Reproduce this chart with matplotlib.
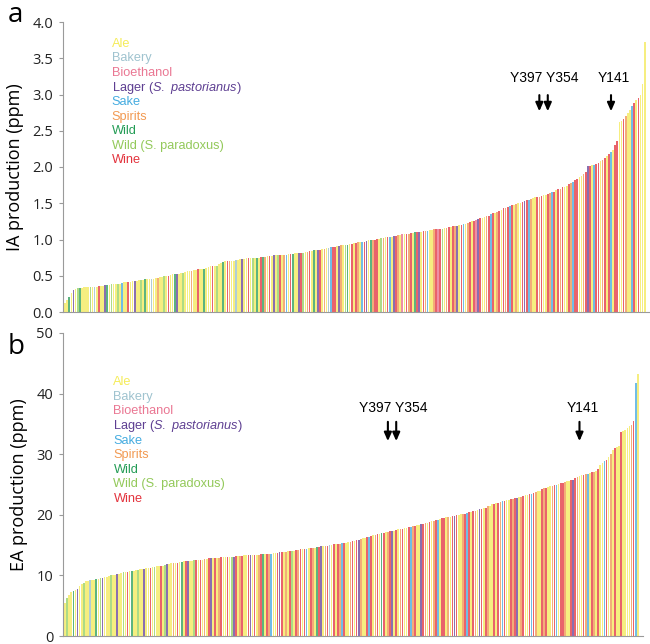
import matplotlib
matplotlib.use("Agg")
import matplotlib.pyplot as plt
import numpy as np

plt.rcParams["mathtext.fontset"] = "custom"
plt.rcParams["mathtext.rm"] = "Liberation Sans"
plt.rcParams["mathtext.it"] = "Liberation Sans:italic"

# strain categories, in legend order
cat_names = ["Ale", "Bakery", "Bioethanol", "Lager (S. pastorianus)", "Sake",
             "Spirits", "Wild", "Wild (S. paradoxus)", "Wine"]
cat_codes = ["A", "K", "B", "L", "S", "P", "W", "X", "R"]
cat_colors = ["#f5ec5a", "#9fc3cf", "#ea7793", "#5e3f92", "#45ace0",
              "#f29a52", "#239c55", "#93c95a", "#e3333d"]
# bars look paler than the legend text in the original (thin lines)
bar_colors = ["#f6ee80", "#b0cdd6", "#ee8fa5", "#8a6fb0", "#70bde6",
              "#f3ad78", "#5cb47f", "#addb86", "#e9636b"]

# panel a: isoamyl acetate, sorted per strain
ia_values = [
    0.12, 0.17, 0.21, 0.26, 0.30, 0.32, 0.33, 0.33, 0.33, 0.34, 0.34, 0.34, 0.35, 0.35, 0.35, 0.35, 0.36, 0.36, 0.36, 0.37, 0.37, 0.37, 0.38,
    0.38, 0.38, 0.39, 0.39, 0.40, 0.41, 0.41, 0.42, 0.42, 0.43, 0.43, 0.43, 0.44, 0.44, 0.44, 0.45, 0.45, 0.46, 0.46, 0.46, 0.47, 0.47, 0.48,
    0.48, 0.49, 0.49, 0.50, 0.51, 0.52, 0.52, 0.53, 0.53, 0.54, 0.54, 0.55, 0.56, 0.56, 0.57, 0.58, 0.58, 0.59, 0.59, 0.60, 0.60, 0.61, 0.62,
    0.63, 0.63, 0.64, 0.64, 0.66, 0.68, 0.69, 0.70, 0.70, 0.71, 0.71, 0.71, 0.72, 0.72, 0.73, 0.73, 0.73, 0.74, 0.74, 0.74, 0.75, 0.75, 0.75,
    0.75, 0.76, 0.76, 0.76, 0.77, 0.77, 0.77, 0.78, 0.78, 0.78, 0.78, 0.79, 0.79, 0.79, 0.80, 0.80, 0.80, 0.81, 0.81, 0.81, 0.82, 0.82, 0.83,
    0.83, 0.84, 0.84, 0.85, 0.85, 0.86, 0.86, 0.87, 0.87, 0.88, 0.88, 0.89, 0.89, 0.90, 0.91, 0.91, 0.92, 0.92, 0.93, 0.93, 0.94, 0.94, 0.95,
    0.95, 0.96, 0.96, 0.97, 0.97, 0.98, 0.99, 0.99, 1.00, 1.00, 1.01, 1.01, 1.02, 1.02, 1.03, 1.03, 1.04, 1.04, 1.05, 1.05, 1.06, 1.06, 1.07,
    1.07, 1.08, 1.08, 1.09, 1.09, 1.10, 1.10, 1.11, 1.11, 1.12, 1.12, 1.12, 1.13, 1.13, 1.14, 1.14, 1.14, 1.15, 1.15, 1.16, 1.16, 1.17, 1.17,
    1.18, 1.18, 1.19, 1.20, 1.20, 1.21, 1.22, 1.23, 1.24, 1.25, 1.26, 1.27, 1.28, 1.29, 1.30, 1.31, 1.32, 1.33, 1.35, 1.36, 1.37, 1.38, 1.40,
    1.41, 1.43, 1.44, 1.45, 1.46, 1.47, 1.48, 1.49, 1.50, 1.51, 1.52, 1.53, 1.54, 1.55, 1.56, 1.57, 1.58, 1.59, 1.59, 1.60, 1.61, 1.62, 1.63,
    1.64, 1.65, 1.66, 1.68, 1.69, 1.70, 1.72, 1.73, 1.74, 1.76, 1.78, 1.80, 1.82, 1.84, 1.86, 1.88, 1.90, 1.93, 2.02, 2.02, 2.03, 2.03, 2.04,
    2.06, 2.08, 2.10, 2.12, 2.15, 2.18, 2.21, 2.24, 2.30, 2.36, 2.62, 2.64, 2.66, 2.70, 2.74, 2.78, 2.84, 2.88, 2.92, 2.95, 3.00, 3.15, 3.72,
]
ia_cats = ("AAWALAXWAAAAXAKARAALWAX" "AAXASAARAALAAXAWAAKAAPA" "AXARAAWLAAXAAAPAARAAWAA"
           "ARAXAAWARPAAKAALAARAXAW" "ARWPARALAXRAPSARWAALRXA" "PRAWALRAPAKSRRALPAXWARA"
           "RPASRLAWPRRAXPARSALRPAB" "ARPRAWRLARPSAAPRBRXAPRA" "RPLARSAPRARBLRAAPRSRAPR"
           "ARPRSRAPAARLRSPAARPRAAR" "PSRARPRAARPSRRAAPRLRASR" "RAPRARSARRAARPAASRARAAA")

# panel b: ethyl acetate, sorted per strain
ea_values = [
    5.5, 6.3, 6.8, 7.3, 7.5, 7.6, 7.7, 8.2, 8.5, 8.8, 9.0, 9.1, 9.2, 9.3, 9.3, 9.4, 9.4, 9.5, 9.6, 9.7, 9.8, 9.9, 10.0,
    10.0, 10.1, 10.2, 10.3, 10.4, 10.5, 10.5, 10.6, 10.7, 10.8, 10.8, 10.9, 10.9, 11.0, 11.1, 11.1, 11.2, 11.2, 11.3, 11.4, 11.4, 11.5, 11.5,
    11.6, 11.6, 11.7, 11.8, 11.9, 12.0, 12.0, 12.1, 12.1, 12.2, 12.2, 12.3, 12.3, 12.3, 12.4, 12.4, 12.5, 12.5, 12.5, 12.6, 12.6, 12.7, 12.7,
    12.8, 12.8, 12.8, 12.9, 12.9, 12.9, 13.0, 13.0, 13.0, 13.1, 13.1, 13.1, 13.1, 13.2, 13.2, 13.2, 13.2, 13.3, 13.3, 13.3, 13.3, 13.4, 13.4,
    13.4, 13.4, 13.5, 13.5, 13.5, 13.6, 13.6, 13.6, 13.7, 13.7, 13.7, 13.8, 13.8, 13.9, 13.9, 14.0, 14.0, 14.1, 14.1, 14.2, 14.2, 14.3, 14.3,
    14.4, 14.4, 14.5, 14.5, 14.6, 14.6, 14.7, 14.7, 14.8, 14.8, 14.9, 14.9, 15.0, 15.0, 15.1, 15.1, 15.2, 15.2, 15.3, 15.3, 15.4, 15.5, 15.5,
    15.6, 15.7, 15.8, 15.9, 16.0, 16.1, 16.2, 16.3, 16.4, 16.5, 16.6, 16.7, 16.8, 16.9, 17.0, 17.0, 17.1, 17.2, 17.3, 17.3, 17.4, 17.5, 17.6,
    17.6, 17.7, 17.8, 17.9, 18.0, 18.0, 18.1, 18.2, 18.3, 18.3, 18.4, 18.5, 18.6, 18.7, 18.8, 18.9, 19.0, 19.1, 19.2, 19.3, 19.4, 19.5, 19.6,
    19.6, 19.7, 19.8, 19.8, 19.9, 20.0, 20.1, 20.2, 20.2, 20.3, 20.4, 20.5, 20.6, 20.7, 20.8, 20.9, 21.0, 21.1, 21.2, 21.4, 21.5, 21.7, 21.8,
    21.9, 22.0, 22.1, 22.2, 22.3, 22.4, 22.5, 22.6, 22.6, 22.7, 22.8, 22.9, 23.0, 23.1, 23.2, 23.3, 23.4, 23.5, 23.6, 23.7, 23.9, 24.0, 24.2,
    24.4, 24.5, 24.6, 24.7, 24.8, 24.9, 25.0, 25.1, 25.2, 25.3, 25.4, 25.5, 25.6, 25.7, 25.8, 26.0, 26.2, 26.4, 26.5, 26.6, 26.7, 26.8, 26.9,
    27.0, 27.1, 27.3, 27.6, 28.2, 28.5, 28.8, 29.1, 29.6, 30.1, 30.7, 31.0, 31.2, 31.3, 33.7, 33.9, 34.0, 34.3, 34.6, 34.8, 35.4, 41.7, 43.2,
]
ea_cats = ("AXAAWALAAXAAKAAWAXLAAAX" "AALAAXARAWAAXAALAARAXAA" "RAXLAAPARAWARLAAXRARAPA"
           "RLARAPRAARAXLRAPRAARLAR" "APRWARPSAARLRAPARXARPRA" "RSARPAWRLAPRKARARPSRAAP"
           "RARLPAARSRAPRAWRAPRLARA" "PRAARSPRAALRPARAPRSARRA" "PARLRAAPRSRARPALRARPAAR"
           "ARPSRAARPRLAPRAARSRPAAR" "PRAAPRSARRPAARLRPAARPSA" "RPARAASRAPARAARAAAAPRSA")

# labelled parent strains: (label, arrow positions as strain index)
ia_marks = [("Y397 Y354", [225, 229]), ("Y141", [259])]
ea_marks = [("Y397 Y354", [155, 159]), ("Y141", [247])]

bar_of = dict(zip(cat_codes, bar_colors))

fig = plt.figure(figsize=(6.5, 6.44), dpi=100)
ax_a = fig.add_axes([63 / 650, 1 - 312 / 644, 587 / 650, 290 / 644])
ax_b = fig.add_axes([63 / 650, 1 - 636 / 644, 580 / 650, 303 / 644])

tick_font = "Open Sans"
text_font = "Liberation Sans"


def draw_panel(ax, values, cats, ymax, ystep, fmt, ylabel, marks, text_y, arr_top, arr_bot,
               leg_x, leg_top, leg_step):
    x = np.arange(len(values))
    cols = [bar_of[c] for c in cats]
    ax.bar(x, values, width=0.8, color=cols, edgecolor="none", linewidth=0)
    ax.set_xlim(-1, 277.5)
    ax.set_ylim(0, ymax)
    ticks = np.arange(0, ymax + ystep / 2, ystep)
    ax.set_yticks(ticks)
    ax.set_yticklabels([fmt.format(v) for v in ticks],
                       fontsize=10.5, family=tick_font, color="#222222")
    ax.set_xticks([])
    for s in ["top", "right"]:
        ax.spines[s].set_visible(False)
    for s in ["left", "bottom"]:
        ax.spines[s].set_color("#9a9a9a")
        ax.spines[s].set_linewidth(0.8)
    ax.tick_params(axis="y", length=3, color="#9a9a9a", pad=4)
    ax.set_ylabel(ylabel, fontsize=13, family=tick_font, labelpad=6)

    # legend as coloured text
    for k, (name, col) in enumerate(zip(cat_names, cat_colors)):
        ty = leg_top - k * leg_step
        if name.startswith("Lager"):
            ax.text(leg_x, ty, r"Lager ($\mathit{S.\ pastorianus}$)", color=col, fontsize=9.2,
                    family=text_font, transform=ax.transAxes, va="center")
        else:
            ax.text(leg_x, ty, name, color=col, fontsize=9.2, family=text_font,
                    transform=ax.transAxes, va="center")

    for label, xs in marks:
        tx = np.mean(xs) + 0.5 if len(xs) > 1 else xs[0] + 1.5
        ax.text(tx, text_y, label, ha="center", va="center", fontsize=10, family=text_font)
        for xi in xs:
            ax.annotate("", xy=(xi, arr_bot), xytext=(xi, arr_top),
                        arrowprops=dict(arrowstyle="-|>,head_length=0.5,head_width=0.22",
                                        color="black", lw=1.5))


draw_panel(ax_a, ia_values, ia_cats, 4.0, 0.5, "{:.1f}", "IA production (ppm)",
           ia_marks, 3.23, 3.03, 2.73, 0.083, 0.925, 0.0503)
draw_panel(ax_b, ea_values, ea_cats, 50, 10, "{:.0f}", "EA production (ppm)",
           ea_marks, 37.6, 35.8, 31.7, 0.087, 0.838, 0.0482)

fig.text(8 / 650, 1 - 15 / 644, "a", fontsize=20, family=tick_font, va="center")
fig.text(8 / 650, 1 - 347 / 644, "b", fontsize=20, family=tick_font, va="center")

fig.savefig("out.png", dpi=100)
